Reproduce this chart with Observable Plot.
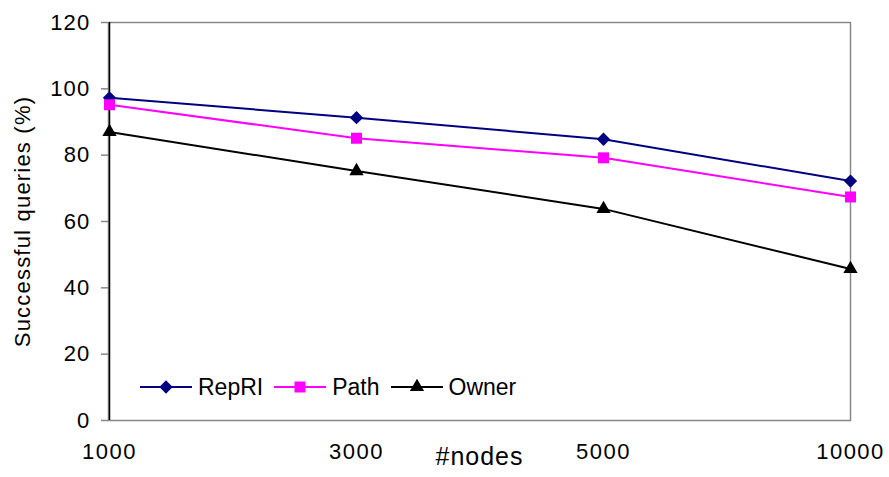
<!DOCTYPE html>
<html><head><meta charset="utf-8">
<script src="https://cdn.jsdelivr.net/npm/d3@7"></script>
<script src="https://cdn.jsdelivr.net/npm/@observablehq/plot@0.6"></script>
<style>
body{margin:0;background:#fff;}
#wrap{position:relative;width:889px;height:477px;font-family:"Liberation Sans",Arial,sans-serif;}
#legend{position:absolute;left:140px;top:373px;display:flex;align-items:center;font-size:23px;color:#000;line-height:28px;}
.item{display:flex;align-items:center;margin-right:11px;}
.item span{margin-left:6px;}
svg [aria-label="x-axis tick label"] text{letter-spacing:1.5px}
svg [aria-label="y-axis tick label"] text{letter-spacing:1.2px}
</style>
</head><body>
<div id="wrap"><div id="legend"></div></div>
<script>
const nodes = ["1000", "3000", "5000", "10000"];
const repri = [97.3, 91.3, 84.8, 72.2];
const pathV = [95.2, 85.1, 79.2, 67.4];
const owner = [87, 75.2, 63.8, 45.7];
const seriesNames = ["RepRI", "Path", "Owner"];
const seriesColors = ["#000080", "#FF00FF", "#000000"];
const seriesSymbols = ["diamond2", "square", "triangle"];
const seriesR = [6, 6.2, 5.3];
const yTicks = [0, 20, 40, 60, 80, 100, 120];
const xLabel = "#nodes";
const yLabel = "Successful queries (%)";

const values = [repri, pathV, owner];
const table = [];
seriesNames.forEach((s, i) => nodes.forEach((n, j) => table.push({series: s, nodes: n, value: values[i][j]})));

const marks = [
  Plot.frame({stroke: "#888", strokeWidth: 1.5}),
  Plot.ruleX([nodes[0]], {stroke: "#000", strokeWidth: 1.5}),
  Plot.axisY(yTicks, {tickSize: 7, tickPadding: 11, fontSize: 22, stroke: "#888", strokeWidth: 1.5, label: null}),
  Plot.axisX({tickSize: 0, tickPadding: 23, fontSize: 22, label: null})
];
seriesNames.forEach((s, i) => {
  marks.push(Plot.line(table.filter(d => d.series === s), {x: "nodes", y: "value", stroke: seriesColors[i], strokeWidth: 2}));
});
seriesNames.forEach((s, i) => {
  marks.push(Plot.dot(table.filter(d => d.series === s), {x: "nodes", y: "value", fill: seriesColors[i], symbol: seriesSymbols[i], r: seriesR[i], stroke: "none"}));
});
marks.push(Plot.text([xLabel], {text: d => d, frameAnchor: "bottom", textAnchor: "middle", dy: 44, fontSize: 25, fill: "#000"}));
marks.push(Plot.text([yLabel], {text: d => d, frameAnchor: "left", textAnchor: "middle", dx: -86, rotate: -90, fontSize: 22, fill: "#000"}));

const chart = Plot.plot({
  width: 889, height: 477,
  marginLeft: 108, marginRight: 39, marginTop: 22, marginBottom: 57,
  style: {fontFamily: "'Liberation Sans', Arial, sans-serif", color: "#000", background: "#fff", overflow: "visible"},
  x: {type: "point", domain: nodes, padding: 0},
  y: {domain: [0, 120]},
  marks
});
document.getElementById("wrap").insertBefore(chart, document.getElementById("legend"));
chart.querySelectorAll('[aria-label="text"] text').forEach(t => {
  if (t.textContent === yLabel) t.style.letterSpacing = "1.2px";
  if (t.textContent === xLabel) t.style.letterSpacing = "1px";
});

const legend = d3.select("#legend");
const symMap = {diamond2: d3.symbolDiamond2, square: d3.symbolSquare, triangle: d3.symbolTriangle};
seriesNames.forEach((s, i) => {
  const item = legend.append("div").attr("class", "item");
  const svg = item.append("svg").attr("width", 52).attr("height", 20);
  svg.append("line").attr("x1", 0).attr("x2", 52).attr("y1", 10).attr("y2", 10).attr("stroke", seriesColors[i]).attr("stroke-width", 2);
  svg.append("path").attr("transform", "translate(26,10)")
    .attr("d", d3.symbol(symMap[seriesSymbols[i]], Math.PI * seriesR[i] * seriesR[i])())
    .attr("fill", seriesColors[i]);
  item.append("span").text(s);
});
</script>
</body></html>
